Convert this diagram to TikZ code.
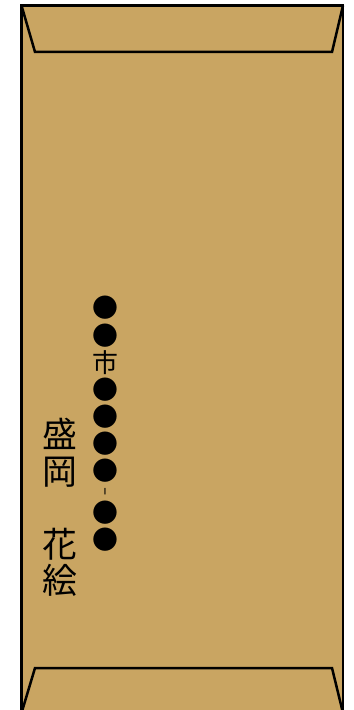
\documentclass[tikz,border=0pt]{standalone}
\usepackage{fontspec}
\usepackage{tikz}
\usetikzlibrary{calc,positioning}
\newfontfamily\jpfont{Noto Sans CJK JP}
\definecolor{kraft}{RGB}{201,165,98}
\tikzstyle{envelope} = [draw,line width=2.5bp,fill=kraft]
\tikzstyle{flap} = [draw,line width=2.5bp,line join=miter]
\tikzstyle{address} = [align=center,inner sep=0pt,font=\jpfont\fontsize{26}{27.2}\selectfont]
\tikzstyle{addressee} = [align=center,inner sep=0pt,font=\jpfont\fontsize{35}{36.5}\selectfont]

\begin{document}
\begin{tikzpicture}[x=1bp,y=-1bp]
  \useasboundingbox (0,0) rectangle (353,710);
  % envelope body and flaps
  \draw[envelope] (21.5,5.5) rectangle (343,713);
  \draw[flap] (21.5,5.5) -- (35,52) -- (332,52) -- (343,5.5);
  \draw[flap] (21.5,713) -- (35,668) -- (332,668) -- (343,713);

  % writing
  \node (addr)[address] at (105,424) {●\\●\\市\\●\\●\\●\\●\\[-6bp]︲\\[-6bp]●\\●};
  \node (name)[addressee] at (60,507.5) {盛\\岡\\　\\花\\絵};
\end{tikzpicture}
\end{document}
